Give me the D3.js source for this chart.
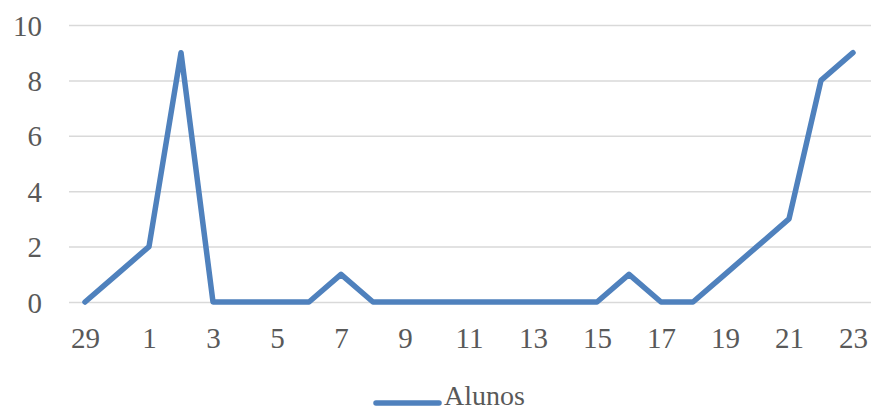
<!DOCTYPE html>
<html>
<head>
<meta charset="utf-8">
<script src="https://cdn.jsdelivr.net/npm/d3@7/dist/d3.min.js"></script>
<style>
  html, body { margin: 0; padding: 0; background: #fff; }
  svg { display: block; }
  text { font-family: "Liberation Serif", "DejaVu Serif", serif; fill: #595959; }
</style>
</head>
<body>
<svg id="chart" width="871" height="412"></svg>
<script>
// Days on the category axis (end of one month into the next)
const days = ["29", "30", "1", "2", "3", "4", "5", "6", "7", "8", "9", "10", "11",
              "12", "13", "14", "15", "16", "17", "18", "19", "20", "21", "22", "23"];
// Number of students per day
const alunos = [0, 1, 2, 9, 0, 0, 0, 0, 1, 0, 0, 0, 0,
                0, 0, 0, 0, 1, 0, 0, 1, 2, 3, 8, 9];
const yTicks = [0, 2, 4, 6, 8, 10];
const seriesName = "Alunos";

const svg = d3.select("#chart");
const plot = { left: 69, right: 869, top: 25, bottom: 302 };
const color = "#4F81BD";

const x = d3.scalePoint()
  .domain(days)
  .range([plot.left, plot.right])
  .padding(0.5);

const y = d3.scaleLinear()
  .domain([0, 10])
  .range([plot.bottom, plot.top]);

// Horizontal gridlines with value labels
const yAxis = d3.axisLeft(y)
  .tickValues(yTicks)
  .tickSize(-(plot.right - plot.left + 2))
  .tickPadding(27);

const gy = svg.append("g")
  .attr("transform", `translate(${plot.left},0)`)
  .call(yAxis);
gy.select(".domain").remove();
gy.selectAll(".tick line").attr("stroke", "#d9d9d9").attr("stroke-width", 1.5);
gy.selectAll(".tick text")
  .attr("font-size", 29)
  .attr("dy", "0.35em");

// Category labels, every other day
const xAxis = d3.axisBottom(x)
  .tickValues(days.filter((d, i) => i % 2 === 0))
  .tickSize(0)
  .tickPadding(28);

const gx = svg.append("g")
  .attr("transform", `translate(0,${plot.bottom})`)
  .call(xAxis);
gx.select(".domain").remove();
gx.selectAll(".tick text")
  .attr("font-size", 29)
  .attr("dy", null)
  .attr("y", 46);

// Series line
const line = d3.line()
  .x((d, i) => x(days[i]))
  .y(d => y(d));

svg.append("path")
  .datum(alunos)
  .attr("fill", "none")
  .attr("stroke", color)
  .attr("stroke-width", 5.5)
  .attr("stroke-linejoin", "round")
  .attr("stroke-linecap", "round")
  .attr("d", line);

// Legend
const legend = svg.append("g").attr("transform", "translate(0,403)");
legend.append("line")
  .attr("x1", 376).attr("x2", 439)
  .attr("stroke", color)
  .attr("stroke-width", 5.5)
  .attr("stroke-linecap", "round");
legend.append("text")
  .attr("x", 444)
  .attr("y", 2)
  .attr("font-size", 28)
  .text(seriesName);
</script>
</body>
</html>
